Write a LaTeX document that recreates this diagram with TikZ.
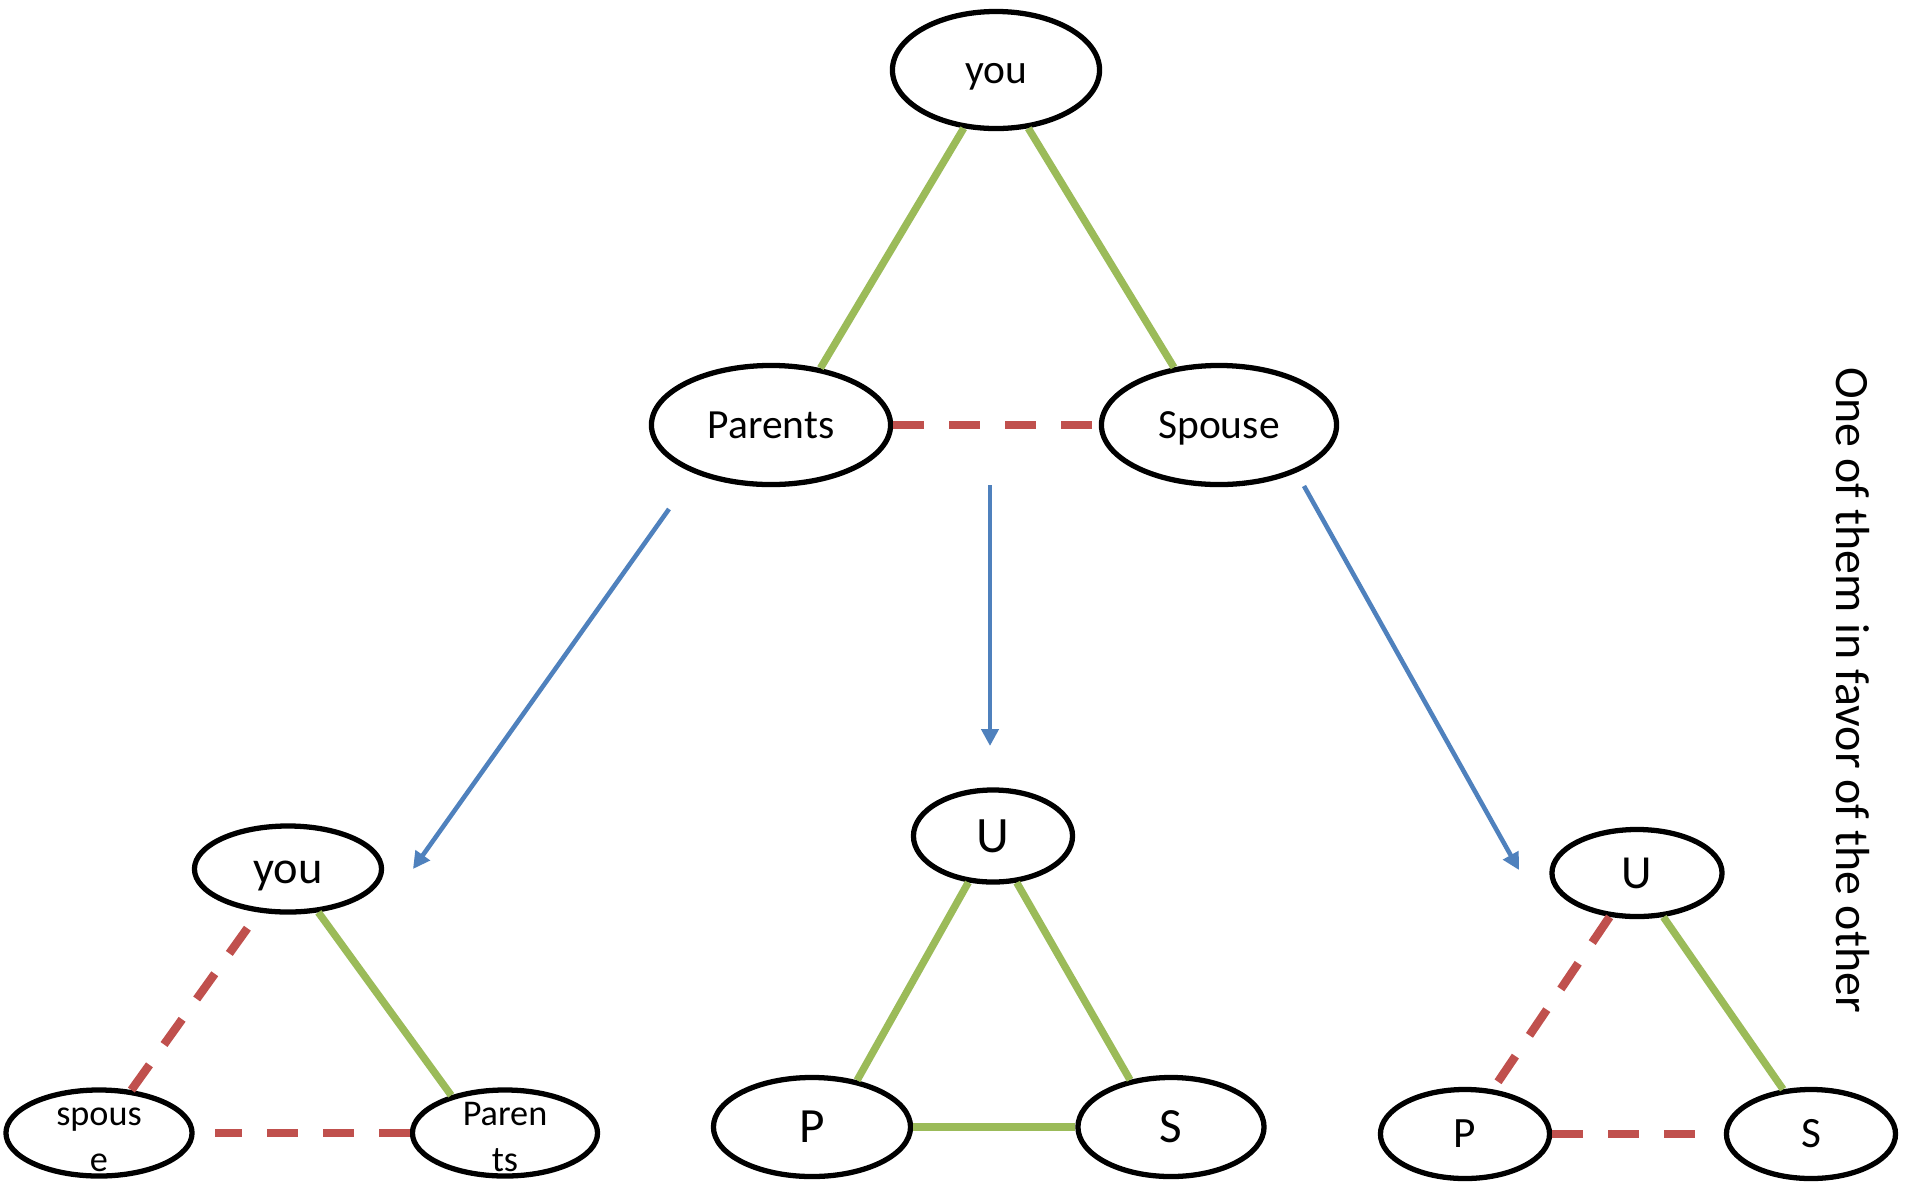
\documentclass[tikz,border=0pt]{standalone}
\usepackage{fontspec}
\setmainfont{Carlito}
\usetikzlibrary{shapes.geometric,arrows.meta}
\definecolor{kingreen}{RGB}{155,187,89}
\definecolor{riftred}{RGB}{192,80,77}
\definecolor{flowblue}{RGB}{79,129,189}
\begin{document}
\begin{tikzpicture}[x=0.01cm,y=-0.01cm,
  ell/.style={ellipse, draw=black, line width=1.5pt, inner sep=0pt, fill=white},
  fs/.style={font=\fontsize{#1}{#1}\selectfont},
  midcap/.style={text height=#1, text depth=0pt},
  kin/.style={draw=kingreen, line width=2.1pt},
  rift/.style={draw=riftred, line width=2.4pt, dash pattern=on 0.31cm off 0.25cm},
  flow/.style={draw=flowblue, line width=1.3pt, -{Triangle[length=0.17cm,width=0.17cm]}},
]
\useasboundingbox[fill=white] (0,0) rectangle (1905,1181);

% upper triangle
\node[ell, minimum width=2.07cm, minimum height=1.17cm, fs=11.8, midcap=7.55pt] (you0) at (996,70) {you};
\node[ell, minimum width=2.39cm, minimum height=1.19cm, fs=11.8, midcap=7.55pt] (par0) at (771,425) {Parents};
\node[ell, minimum width=2.35cm, minimum height=1.19cm, fs=11.8, midcap=7.55pt] (spo0) at (1219,425) {Spouse};
\draw[kin] (you0.241.6) -- (par0.49.7);
\draw[kin] (you0.299.1) -- (spo0.128.5);
\draw[rift] (par0) -- (spo0);

% lower left triangle
\node[ell, minimum width=1.87cm, minimum height=0.86cm, fs=13.2, midcap=8.45pt] (you1) at (288,869) {you};
\node[ell, minimum width=1.86cm, minimum height=0.86cm, font=\fontsize{10.3}{13}\selectfont, text height=0pt, text depth=0pt] (spo1) at (99,1133)
  {\raisebox{-0.42em}{\begin{tabular}{@{}c@{}}spous\\e\end{tabular}}};
\node[ell, minimum width=1.85cm, minimum height=0.86cm, font=\fontsize{10.3}{13}\selectfont, text height=0pt, text depth=0pt] (par1) at (505,1133)
  {\raisebox{-0.42em}{\begin{tabular}{@{}c@{}}Paren\\ts\end{tabular}}};
\draw[kin] (you1.305.2) -- (par1.145.8);
\draw[rift] (spo1.53.3) -- (you1.236);
\draw[rift, shorten >=0.2cm] (par1) -- (spo1);

% lower middle triangle
\node[ell, minimum width=1.59cm, minimum height=0.92cm, fs=14.5, midcap=9.3pt] (u2) at (993,836) {U};
\node[ell, minimum width=1.97cm, minimum height=0.99cm, fs=14, midcap=9pt] (p2) at (812,1127) {P};
\node[ell, minimum width=1.86cm, minimum height=0.99cm, fs=14, midcap=9pt] (s2) at (1171,1127) {S};
\draw[kin] (u2.242.7) -- (p2.46.6);
\draw[kin] (u2.297.3) -- (s2.131.1);
\draw[kin] (p2) -- (s2);

% lower right triangle
\node[ell, minimum width=1.70cm, minimum height=0.87cm, fs=13.5, midcap=8.7pt] (u3) at (1637,873) {U};
\node[ell, minimum width=1.69cm, minimum height=0.89cm, fs=12.3, midcap=7.9pt] (p3) at (1465,1134) {P};
\node[ell, minimum width=1.69cm, minimum height=0.89cm, fs=12.3, midcap=7.9pt] (s3) at (1811,1134) {S};
\draw[rift] (u3.238) -- (p3.58.3);
\draw[kin] (u3.301.1) -- (s3.122);
\draw[rift, shorten >=0.22cm] (p3) -- (s3);

% arrows from the upper triangle to the three outcomes
\coordinate (la) at (669,509);
\coordinate (lb) at (413,869);
\coordinate (ma) at (990,485);
\coordinate (mb) at (990,746);
\coordinate (ra) at (1304,486);
\coordinate (rb) at (1519,870);
\draw[flow] (la) -- (lb);
\draw[flow] (ma) -- (mb);
\draw[flow] (ra) -- (rb);

% side note
\node[rotate=-90, fs=13.6, inner sep=0pt] (note) at (1853,690) {One of them in favor of the other};
\end{tikzpicture}
\end{document}
